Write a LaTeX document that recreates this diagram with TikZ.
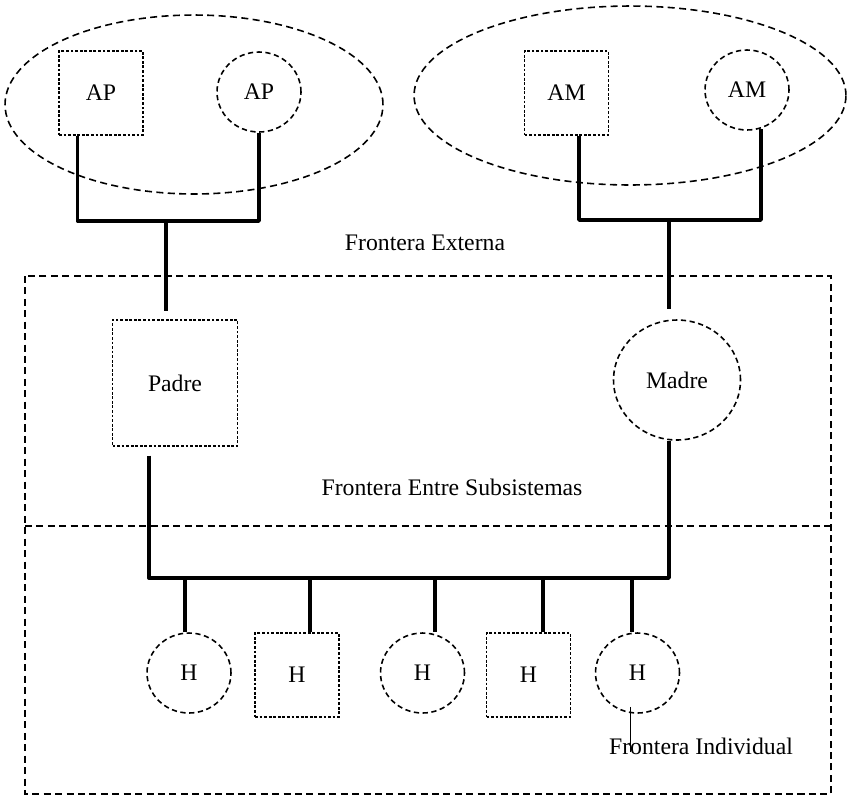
\documentclass[tikz,border=0pt]{standalone}
\usepackage{fontspec}
\setmainfont{Liberation Serif}
\usetikzlibrary{shapes.geometric,calc}

\tikzset{
  every node/.style={font=\fontsize{13.5pt}{16pt}\selectfont},
  ring/.style={draw, ellipse, inner sep=0pt, line width=0.9pt, dash pattern=on 4pt off 2.5pt},
  male/.style={draw, rectangle, inner sep=0pt, line width=0.75pt, dash pattern=on 1.6pt off 1pt,
    minimum width=1.68cm, minimum height=1.68cm},
  female/.style={draw, ellipse, inner sep=0pt, line width=0.9pt, dash pattern=on 3pt off 2pt,
    minimum width=1.68cm, minimum height=1.6cm},
  famline/.style={line width=1.9pt, line join=round},
  bound/.style={line width=0.9pt, dash pattern=on 4pt off 2.5pt},
  labelline/.style={line width=0.5pt}
}

\begin{document}
\begin{tikzpicture}[x=0.02cm, y=-0.02cm]
    \useasboundingbox (0,0) rectangle (847,795);

    \node[ring, minimum width=7.56cm, minimum height=3.58cm] (famp) at (194,104.5) {};
    \node[ring, minimum width=8.64cm, minimum height=3.58cm] (famm) at (630,95.5) {};

    \node[male] (ap1) at (101,93) {AP};
    \node[female] (ap2) at (259,92) {AP};
    \node[male] (am1) at (566.5,93) {AM};
    \node[female] (am2) at (747,90) {AM};

	\draw[bound] (25,276) rectangle (831,794);
	\draw[bound] (25,526) -- (831,526);

    \node (fext) at (425,243) {Frontera Externa};
    \node (fsub) at (452,487) {Frontera Entre Subsistemas};

    \node[male, minimum width=2.5cm, minimum height=2.52cm] (padre) at (175,383) {Padre};
    \node[female, minimum width=2.54cm, minimum height=2.4cm] (madre) at (677,380) {Madre};

    \node[female] (h1) at (189,673) {H};
    \node[male] (h2) at (297,675) {H};
    \node[female] (h3) at (422.5,673) {H};
    \node[male] (h4) at (528.5,675) {H};
    \node[female] (h5) at (637.5,673) {H};

    \coordinate (jp) at (166,221);
    \coordinate (jm) at (669,220);
    \coordinate (bus) at (400,578);

	\draw[famline] ($(ap1.south west)+(19,0)$) |- (jp) -| (ap2.south);
	\draw[famline] ($(am1.south west)+(55,0)$) |- (jm) -| (am2.-70);
	\draw[famline] (jp) -- ($(padre.north -| jp)+(0,-8)$);
	\draw[famline] (jm) -- ($(madre.north -| jm)+(0,-10)$);
	\draw[famline] ($(padre.south)+(-26,9)$) |- (bus -| jm) -- (madre.south -| jm);

    \foreach \n/\dx in {h1/-4, h2/13, h3/12.5, h4/14.5, h5/-5.5}
	  \draw[famline] ($(\n.north |- bus)+(\dx,0)$) -- ($(\n.north)+(\dx,0)$);

    \node (findiv) at (701,746) {Frontera Individual};
    \coordinate (fi-end) at (630,752);
	\draw[labelline] ($(h5.south)+(-7.5,-7)$) -- (fi-end);

\end{tikzpicture}
\end{document}
